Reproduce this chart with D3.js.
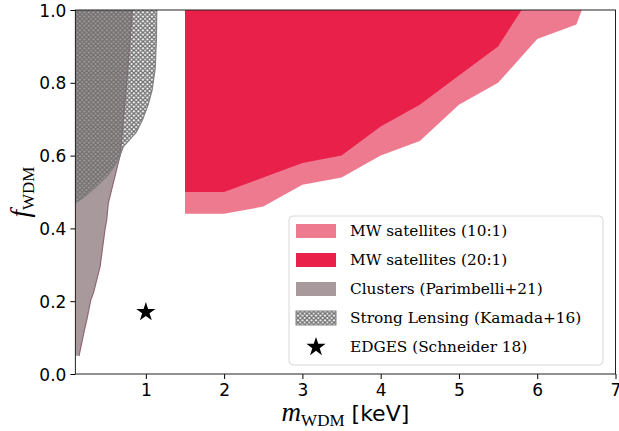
<!DOCTYPE html>
<html>
<head>
<meta charset="utf-8">
<script src="https://cdn.jsdelivr.net/npm/d3@7.9.0/dist/d3.min.js"></script>
<style>
  body { margin: 0; background: #fff; }
  svg { display: block; }
  .tick text { font-family: "DejaVu Sans", sans-serif; font-size: 17px; fill: #000; }
  .legend text { font-family: "DejaVu Serif", serif; font-size: 15.3px; }
</style>
</head>
<body>
<div id="chart"></div>
<script>
// ─── data (m_WDM in keV, f_WDM) ───────────────────────
const xTicks = [1, 2, 3, 4, 5, 6, 7];
const yTicks = [0, 0.2, 0.4, 0.6, 0.8, 1.0];

// MW satellites 10:1 lower boundary
const mw10 = [
  [1.5, 0.44], [2.0, 0.44], [2.5, 0.46], [3.0, 0.52], [3.5, 0.54],
  [4.0, 0.60], [4.5, 0.64], [5.0, 0.74], [5.5, 0.80], [6.0, 0.92],
  [6.5, 0.96], [6.57, 1.0]
];
// MW satellites 20:1 lower boundary
const mw20 = [
  [1.5, 0.50], [2.0, 0.50], [2.5, 0.54], [3.0, 0.58], [3.5, 0.60],
  [4.0, 0.68], [4.5, 0.74], [5.0, 0.82], [5.5, 0.90], [5.8, 1.0]
];
// Clusters (Parimbelli+21): right boundary m(f)
const clusters = [
  [0.146, 0.05], [0.18, 0.084], [0.21, 0.116], [0.245, 0.148], [0.296, 0.203],
  [0.33, 0.222], [0.415, 0.295], [0.48, 0.40], [0.50, 0.423], [0.52, 0.469],
  [0.67, 0.60], [0.69, 0.643], [0.756, 0.80], [0.828, 1.0]
];
// Strong lensing (Kamada+16): boundary
const lensing = [
  [0.1, 0.47], [0.16, 0.478], [0.265, 0.496], [0.39, 0.52], [0.52, 0.547], [0.649, 0.588],
  [0.713, 0.625], [0.80, 0.645], [0.88, 0.665], [0.96, 0.70], [1.03, 0.74], [1.08, 0.78],
  [1.12, 0.84], [1.135, 0.92], [1.14, 1.0]
];
// EDGES (Schneider 18)
const edges = [[1.0, 0.17]];

const legendItems = [
  {label: 'MW satellites (10:1)', type: 'mw10'},
  {label: 'MW satellites (20:1)', type: 'mw20'},
  {label: 'Clusters (Parimbelli+21)', type: 'clusters'},
  {label: 'Strong Lensing (Kamada+16)', type: 'lensing'},
  {label: 'EDGES (Schneider 18)', type: 'edges'}
];

const colors = {
  mw10: '#ee7a8f',
  mw20: '#e9204a',
  clusters: '#a89a9c',
  clustersEdge: '#8f6676',
  lensingEdge: '#808080'
};

// ─── layout ──────────────────────────────────────────
const W = 619, H = 431;
const margin = {top: 10, right: 3.5, bottom: 57, left: 75.4};
const width = W - margin.left - margin.right;
const height = H - margin.top - margin.bottom;

const svg = d3.select('#chart').append('svg')
  .attr('width', W).attr('height', H);

const defs = svg.append('defs');
const hatch = defs.append('pattern')
  .attr('id', 'hatch')
  .attr('patternUnits', 'userSpaceOnUse')
  .attr('width', 4.5).attr('height', 4.5);
hatch.append('path')
  .attr('d', 'M0,0L4.5,4.5M4.5,0L0,4.5M-1,3.5L1,5.5M3.5,-1L5.5,1M3.5,5.5L5.5,3.5M-1,1L1,-1')
  .attr('stroke', '#707070').attr('stroke-width', 1.4);

defs.append('clipPath').attr('id', 'clip')
  .append('rect').attr('width', width).attr('height', height);

const g = svg.append('g').attr('transform', `translate(${margin.left},${margin.top})`);

const x = d3.scaleLinear().domain([0.1, 7]).range([0, width]);
const y = d3.scaleLinear().domain([0, 1]).range([height, 0]);

const plot = g.append('g').attr('clip-path', 'url(#clip)');

// MW regions: fill above the boundary up to the top
const toPx = d => [x(d[0]), y(d[1])];
plot.append('path')
  .attr('d', d3.line()([[x(1.5), y(1.05)], ...mw10.map(toPx), [x(6.6), y(1.05)]]))
  .attr('fill', colors.mw10);
plot.append('path')
  .attr('d', d3.line()([[x(1.5), y(1.05)], ...mw20.map(toPx), [x(5.85), y(1.05)]]))
  .attr('fill', colors.mw20);

// Clusters: fill between x=0 and boundary
const betweenX = d3.area().y(d => y(d[1])).x0(x(0)).x1(d => x(d[0]));
plot.append('path')
  .attr('d', betweenX(clusters))
  .attr('fill', colors.clusters);
plot.append('path')
  .attr('d', d3.line().x(d => x(d[0])).y(d => y(d[1]))(clusters))
  .attr('fill', 'none')
  .attr('stroke', colors.clustersEdge).attr('stroke-width', 1.2);

// Strong lensing: hatched, no fill
const lensPts = [[x(0), y(lensing[0][1])], ...lensing.map(toPx), [x(1.14), y(1.05)], [x(0), y(1.05)]];
plot.append('path')
  .attr('d', d3.line()(lensPts) + 'Z')
  .attr('fill', 'url(#hatch)')
  .attr('stroke', colors.lensingEdge).attr('stroke-width', 1.2);

// EDGES star
plot.selectAll('.star').data(edges).join('path')
  .attr('class', 'star')
  .attr('transform', d => `translate(${x(d[0])},${y(d[1])})`)
  .attr('d', d3.symbol(d3.symbolStar, 115)())
  .attr('fill', '#000');

// ─── axes ────────────────────────────────────────────
const xAxis = g.append('g').attr('transform', `translate(0,${height})`)
  .call(d3.axisBottom(x).tickValues(xTicks).tickFormat(d3.format('d')).tickSize(5).tickPadding(5));
const yAxis = g.append('g')
  .call(d3.axisLeft(y).tickValues(yTicks).tickFormat(d3.format('.1f')).tickSize(5).tickPadding(4));
[xAxis, yAxis].forEach(a => {
  a.select('.domain').remove();
  a.selectAll('.tick line').attr('stroke', '#000').attr('stroke-width', 1);
});
yAxis.selectAll('.tick text').attr('dy', '0.36em');

g.append('rect')
  .attr('width', width).attr('height', height)
  .attr('fill', 'none').attr('stroke', '#222').attr('stroke-width', 1);

// axis labels
const xl = svg.append('text')
  .attr('x', margin.left + width / 2).attr('y', 421)
  .attr('text-anchor', 'middle');
xl.append('tspan').text('m')
  .attr('font-family', 'Liberation Serif, serif').attr('font-style', 'italic').attr('font-size', 27);
xl.append('tspan').text('WDM')
  .attr('font-family', 'Liberation Serif, serif').attr('font-size', 17).attr('dy', 5);
xl.append('tspan').text(' [keV]')
  .attr('font-family', 'DejaVu Sans, sans-serif').attr('font-size', 22).attr('dy', -5);

const yl = svg.append('text')
  .attr('transform', `translate(29,${margin.top + height / 2}) rotate(-90)`)
  .attr('text-anchor', 'middle');
yl.append('tspan').text('f')
  .attr('font-family', 'Liberation Serif, serif').attr('font-style', 'italic').attr('font-size', 27);
yl.append('tspan').text('WDM')
  .attr('font-family', 'Liberation Serif, serif').attr('font-size', 17).attr('dy', 5);

// ─── legend ─────────────────────────────────────────
const lg = svg.append('g').attr('class', 'legend').attr('transform', 'translate(289,216)');
lg.append('rect')
  .attr('width', 314).attr('height', 149).attr('rx', 4)
  .attr('fill', 'rgba(255,255,255,0.85)').attr('stroke', '#d8d8d8').attr('stroke-width', 1);
const rows = lg.selectAll('.row').data(legendItems).join('g')
  .attr('class', 'row')
  .attr('transform', (d, i) => `translate(0,${15 + i * 29})`);
rows.each(function(d) {
  const r = d3.select(this);
  if (d.type === 'edges') {
    r.append('path')
      .attr('transform', 'translate(27,0)')
      .attr('d', d3.symbol(d3.symbolStar, 115)())
      .attr('fill', '#000');
  } else {
    const fill = d.type === 'lensing' ? 'url(#hatch)' : colors[d.type];
    r.append('rect')
      .attr('x', 7).attr('y', -7).attr('width', 40).attr('height', 14)
      .attr('fill', fill)
      .attr('stroke', d.type === 'lensing' ? colors.lensingEdge : 'none')
      .attr('stroke-width', 1);
  }
  r.append('text').attr('x', 61).attr('y', 5).text(d.label);
});
</script>
</body>
</html>
